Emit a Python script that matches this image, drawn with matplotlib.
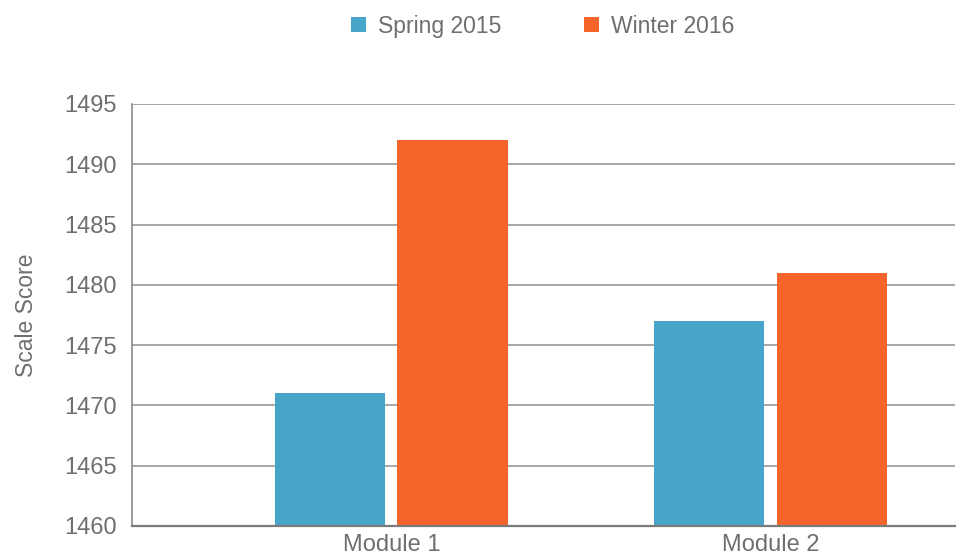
#!/usr/bin/env python3
"""Scale score by module, Spring 2015 vs Winter 2016."""

import matplotlib

matplotlib.use("Agg")
import matplotlib.pyplot as plt
from matplotlib.patches import Patch

MODULES = ["Module 1", "Module 2"]
SERIES_NAMES = ["Spring 2015", "Winter 2016"]
SPRING_2015 = [1471, 1477]
WINTER_2016 = [1492, 1481]
Y_TICKS = [1460, 1465, 1470, 1475, 1480, 1485, 1490, 1495]

COLORS = ["#48A5CA", "#F3652A"]
TEXT = "#6E6F72"
FONT = ["Liberation Sans", "DejaVu Sans"]


def main() -> int:
    plt.rcParams["font.family"] = FONT
    fig = plt.figure(figsize=(9.57, 5.57), dpi=100)
    ax = fig.add_axes((0.138, 0.0557, 0.860, 0.7576))

    width = 0.292
    offset = 0.162
    xs = list(range(len(MODULES)))
    for values, color, sign in zip([SPRING_2015, WINTER_2016], COLORS, [-1, 1]):
        ax.bar([x + sign * offset for x in xs], values, width=width,
               color=color, zorder=3, linewidth=0)

    ax.set_ylim(1460, 1495)
    ax.set_xlim(-0.684, 1.487)
    ax.set_yticks(Y_TICKS)
    ax.set_xticks(xs)
    ax.set_xticklabels(MODULES)
    ax.tick_params(axis="y", length=0, pad=11, labelsize=17, labelcolor=TEXT)
    ax.tick_params(axis="x", length=0, pad=6, labelsize=17, labelcolor=TEXT)
    ax.grid(axis="y", color="#A6A6A6", linewidth=1.4, zorder=0)
    for side in ("top", "right"):
        ax.spines[side].set_visible(False)
    ax.spines["left"].set_color("#8C8C8C")
    ax.spines["left"].set_linewidth(1.2)
    ax.spines["bottom"].set_color("#7A7A7A")
    ax.spines["bottom"].set_linewidth(1.6)
    ax.spines["bottom"].set_zorder(4)
    ax.set_ylabel("Scale Score", fontsize=16.5, color=TEXT, labelpad=19)

    handles = [Patch(facecolor=c, edgecolor="none", label=n)
               for c, n in zip(COLORS, SERIES_NAMES)]
    fig.legend(handles=handles, loc="center", bbox_to_anchor=(0.567, 0.953),
               ncol=2, frameon=False, fontsize=16.5, labelcolor=TEXT,
               handlelength=0.66, handleheight=0.66, handletextpad=0.52,
               columnspacing=3.6)

    fig.savefig("out.png", dpi=100)
    return 0


if __name__ == "__main__":
    raise SystemExit(main())
